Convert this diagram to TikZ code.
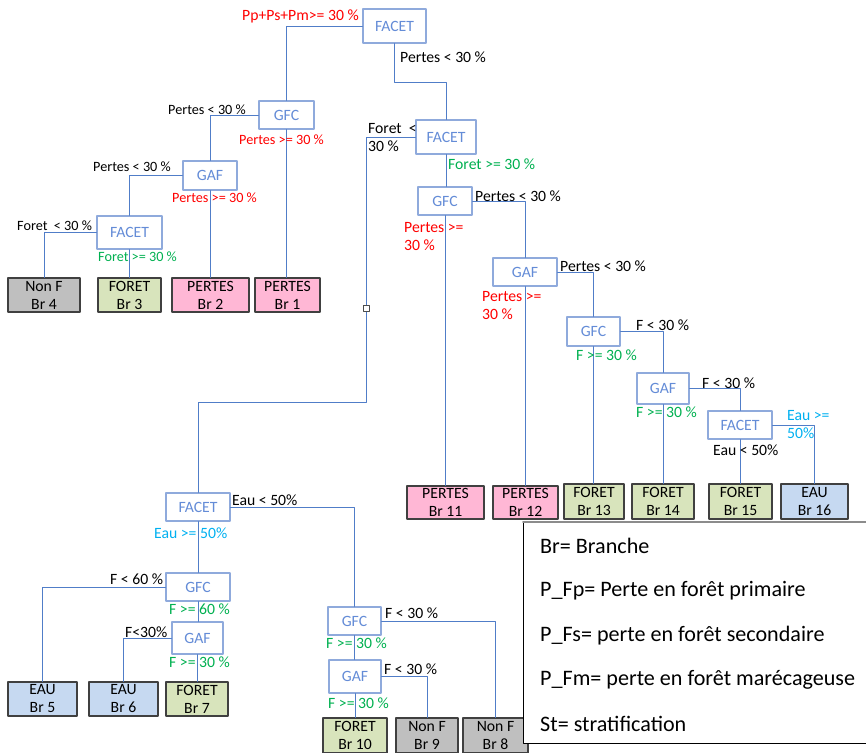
\documentclass[tikz,border=0pt]{standalone}
\usepackage{fontspec}
\setmainfont{Carlito}
\usepackage{tikz}

\definecolor{boxblue}{RGB}{143,170,220}
\definecolor{txtblue}{RGB}{100,140,215}
\definecolor{lnblue}{RGB}{80,125,200}
\definecolor{redlbl}{RGB}{255,0,0}
\definecolor{greenlbl}{RGB}{0,176,80}
\definecolor{cyanlbl}{RGB}{0,176,240}
\definecolor{pinkleaf}{RGB}{255,183,213}
\definecolor{greenleaf}{RGB}{216,228,188}
\definecolor{grayleaf}{RGB}{191,191,191}
\definecolor{blueleaf}{RGB}{198,217,241}

\newcommand{\lblfont}{\fontsize{15.7}{18}\selectfont}
\newcommand{\smlfont}{\fontsize{14.2}{17}\selectfont}
\newcommand{\legfont}{\fontsize{22.1}{26}\selectfont}

\begin{document}
\begin{tikzpicture}[line cap=round,line join=round,x=1pt,y=-1pt,
  dec/.style={draw=boxblue,line width=1.1pt,fill=white,text=txtblue,font=\lblfont,inner sep=0pt,minimum width=54,minimum height=29},
  leaf/.style={draw=black!75,line width=1.1pt,font=\lblfont,align=center,inner sep=0pt,minimum height=34},
  conn/.style={draw=lnblue,line width=0.9pt},
  lbl/.style={anchor=west,inner sep=0pt,font=\lblfont,align=left},
  sml/.style={lbl,font=\smlfont}]
\useasboundingbox (0,0) rectangle (866,752);
% decision boxes
\node[dec,minimum width=63,minimum height=34] (f1) at (394.5,26) {FACET};
\node[dec,minimum width=55,minimum height=28] (g1) at (286.5,115) {GFC};
\node[dec,minimum width=60,minimum height=34] (f2) at (446,137) {FACET};
\node[dec,minimum width=54,minimum height=29] (a1) at (210,175.5) {GAF};
\node[dec,minimum width=65,minimum height=33] (f3) at (129.5,232.5) {FACET};
\node[dec,minimum width=54,minimum height=28] (g2) at (445,201) {GFC};
\node[dec,minimum width=64,minimum height=28] (a2) at (525,272) {GAF};
\node[dec,minimum width=53,minimum height=29] (g3) at (593.5,331.5) {GFC};
\node[dec,minimum width=52,minimum height=31] (a3) at (663,388.5) {GAF};
\node[dec,minimum width=64,minimum height=28] (f4) at (740,425) {FACET};
\node[dec,minimum width=64,minimum height=28] (f5) at (198,507) {FACET};
\node[dec,minimum width=64,minimum height=28] (g4) at (198,587) {GFC};
\node[dec,minimum width=51,minimum height=32] (a4) at (197.5,638) {GAF};
\node[dec,minimum width=53,minimum height=28] (g5) at (354.5,621) {GFC};
\node[dec,minimum width=52,minimum height=33] (a5) at (355,676.5) {GAF};
% branches
\node[leaf,fill=grayleaf,minimum width=72] (l4) at (44,295) {Non F\\Br 4};
\node[leaf,fill=greenleaf,minimum width=63] (l3) at (129.5,295) {FORET\\Br 3};
\node[leaf,fill=pinkleaf,minimum width=77] (l2) at (210.5,295) {PERTES\\Br 2};
\node[leaf,fill=pinkleaf,minimum width=65] (l1) at (287.5,295) {PERTES\\Br 1};
\node[leaf,fill=pinkleaf,minimum width=77,minimum height=33] (l11) at (445.5,502.5) {PERTES\\Br 11};
\node[leaf,fill=pinkleaf,minimum width=65,minimum height=33] (l12) at (525.5,502.5) {PERTES\\Br 12};
\node[leaf,fill=greenleaf,minimum width=60,minimum height=35] (l13) at (594,501.5) {FORET\\Br 13};
\node[leaf,fill=greenleaf,minimum width=62,minimum height=35] (l14) at (663,501.5) {FORET\\Br 14};
\node[leaf,fill=greenleaf,minimum width=63,minimum height=35] (l15) at (740.5,501.5) {FORET\\Br 15};
\node[leaf,fill=blueleaf,minimum width=67,minimum height=35] (l16) at (814.5,501.5) {EAU\\Br 16};
\node[leaf,fill=blueleaf,minimum width=69] (l5) at (42.5,699) {EAU\\Br 5};
\node[leaf,fill=blueleaf,minimum width=69] (l6) at (123.5,699) {EAU\\Br 6};
\node[leaf,fill=greenleaf,minimum width=62] (l7) at (197,699) {FORET\\Br 7};
\node[leaf,fill=greenleaf,minimum width=64,minimum height=35] (l10) at (355,735.5) {FORET\\Br 10};
\node[leaf,fill=grayleaf,minimum width=62,minimum height=35] (l9) at (427,735.5) {Non F\\Br 9};
\node[leaf,fill=grayleaf,minimum width=65,minimum height=35] (l8) at (495.5,735.5) {Non F\\Br 8};
% connectors
\coordinate (bend) at (366,402);
\draw[conn] (f1.west) -| (g1.north);
\draw[conn] (f1.south) -- ++(0,39) -| (f2.north);
\draw[conn] (g1.west) -| (a1.north);
\draw[conn] (g1.south) -- (g1.south |- l1.north);
\draw[conn] (a1.west) -| (f3.north);
\draw[conn] (a1.south) -- (a1.south |- l2.north);
\draw[conn] (f3.west) -| (l4.north);
\draw[conn] (f3.south) -- (f3.south |- l3.north);
\draw[conn] (f2.west) -| (bend) -| (f5.north);
\draw[conn] (f2.south) -- (f2.south |- g2.north);
\draw[conn] (g2.east) -| (a2.north);
\draw[conn] (g2.south) -- (g2.south |- l11.north);
\draw[conn] (a2.east) -| (g3.north);
\draw[conn] (a2.south) -- (a2.south |- l12.north);
\draw[conn] (g3.east) -| (a3.north);
\draw[conn] (g3.south) -- (g3.south |- l13.north);
\draw[conn] (a3.east) -| (f4.north);
\draw[conn] (a3.south) -- (a3.south |- l14.north);
\draw[conn] (f4.east) -| (l16.north);
\draw[conn] (f4.south) -- (f4.south |- l15.north);
\draw[conn] (f5.east) -| (g5.north);
\draw[conn] (f5.south) -- (f5.south |- g4.north);
\draw[conn] (g4.west) -| (l5.north);
\draw[conn] (g4.south) -- (g4.south |- a4.north);
\draw[conn] (a4.west) -| (l6.north);
\draw[conn] (a4.south) -- (a4.south |- l7.north);
\draw[conn] (g5.east) -| (l8.north);
\draw[conn] (g5.south) -- (g5.south |- a5.north);
\draw[conn] (a5.east) -| (l9.north);
\draw[conn] (a5.south) -- (a5.south |- l10.north);
\node[draw=black!70,fill=white,line width=0.6pt,inner sep=0pt,minimum size=6] (hdl) at (366,308) {};
% conditions
\node[lbl,text=redlbl] (c1) at (242,16) {Pp+Ps+Pm>= 30 \%};
\node[lbl] (c2) at (400,57) {Pertes < 30 \%};
\node[sml] (c3) at (168,110) {Pertes < 30 \%};
\node[sml,text=redlbl] (c4) at (239,140) {Pertes >= 30 \%};
\node[sml] (c5) at (93,167) {Pertes < 30 \%};
\node[sml,text=redlbl] (c6) at (172,198) {Pertes >= 30 \%};
\node[sml] (c7) at (17,226) {Foret~~< 30 \%};
\node[sml,text=greenlbl] (c8) at (98,257) {Foret >= 30 \%};
\node[lbl,anchor=north west] (c9) at (368,123) {Foret~~<\\30 \%};
\node[lbl,text=greenlbl] (c10) at (448,164) {Foret >= 30 \%};
\node[lbl] (c11) at (475,196) {Pertes < 30 \%};
\node[lbl,anchor=north west,text=redlbl] (c12) at (404,222) {Pertes >=\\30 \%};
\node[lbl] (c13) at (560,266) {Pertes < 30 \%};
\node[lbl,anchor=north west,text=redlbl] (c14) at (482,291) {Pertes >=\\30 \%};
\node[lbl] (c15) at (636,325) {F < 30 \%};
\node[lbl,text=greenlbl] (c16) at (576,355) {F >= 30 \%};
\node[lbl] (c17) at (702,383) {F < 30 \%};
\node[lbl,text=greenlbl] (c18) at (636,412) {F >= 30 \%};
\node[lbl,anchor=north west,text=cyanlbl] (c19) at (787,410) {Eau >=\\50\%};
\node[lbl] (c20) at (713,450) {Eau < 50\%};
\node[lbl] (c21) at (232,500) {Eau < 50\%};
\node[lbl,text=cyanlbl] (c22) at (154,533) {Eau >= 50\%};
\node[lbl] (c23) at (110,579) {F < 60 \%};
\node[lbl,text=greenlbl] (c24) at (169,609) {F >= 60 \%};
\node[lbl] (c25) at (125,632) {F<30\%};
\node[lbl,text=greenlbl] (c26) at (169,662) {F >= 30 \%};
\node[lbl] (c27) at (385,613) {F < 30 \%};
\node[lbl,text=greenlbl] (c28) at (326,643) {F >= 30 \%};
\node[lbl] (c29) at (384,669) {F < 30 \%};
\node[lbl,text=greenlbl] (c30) at (328,703) {F >= 30 \%};
% legend
\draw[fill=white,draw=black,line width=0.8pt] (523,522) rectangle (872,743);
\draw[black!45,line width=2pt] (523,522) -- (872,522);
\node[lbl,font=\legfont] (k1) at (540,546) {Br= Branche};
\node[lbl,font=\legfont] (k2) at (540,591) {P\_Fp= Perte en forêt primaire};
\node[lbl,font=\legfont] (k3) at (540,636) {P\_Fs= perte en forêt secondaire};
\node[lbl,font=\legfont] (k4) at (540,680) {P\_Fm= perte en forêt marécageuse};
\node[lbl,font=\legfont] (k5) at (540,724) {St= stratification};
\end{tikzpicture}
\end{document}
